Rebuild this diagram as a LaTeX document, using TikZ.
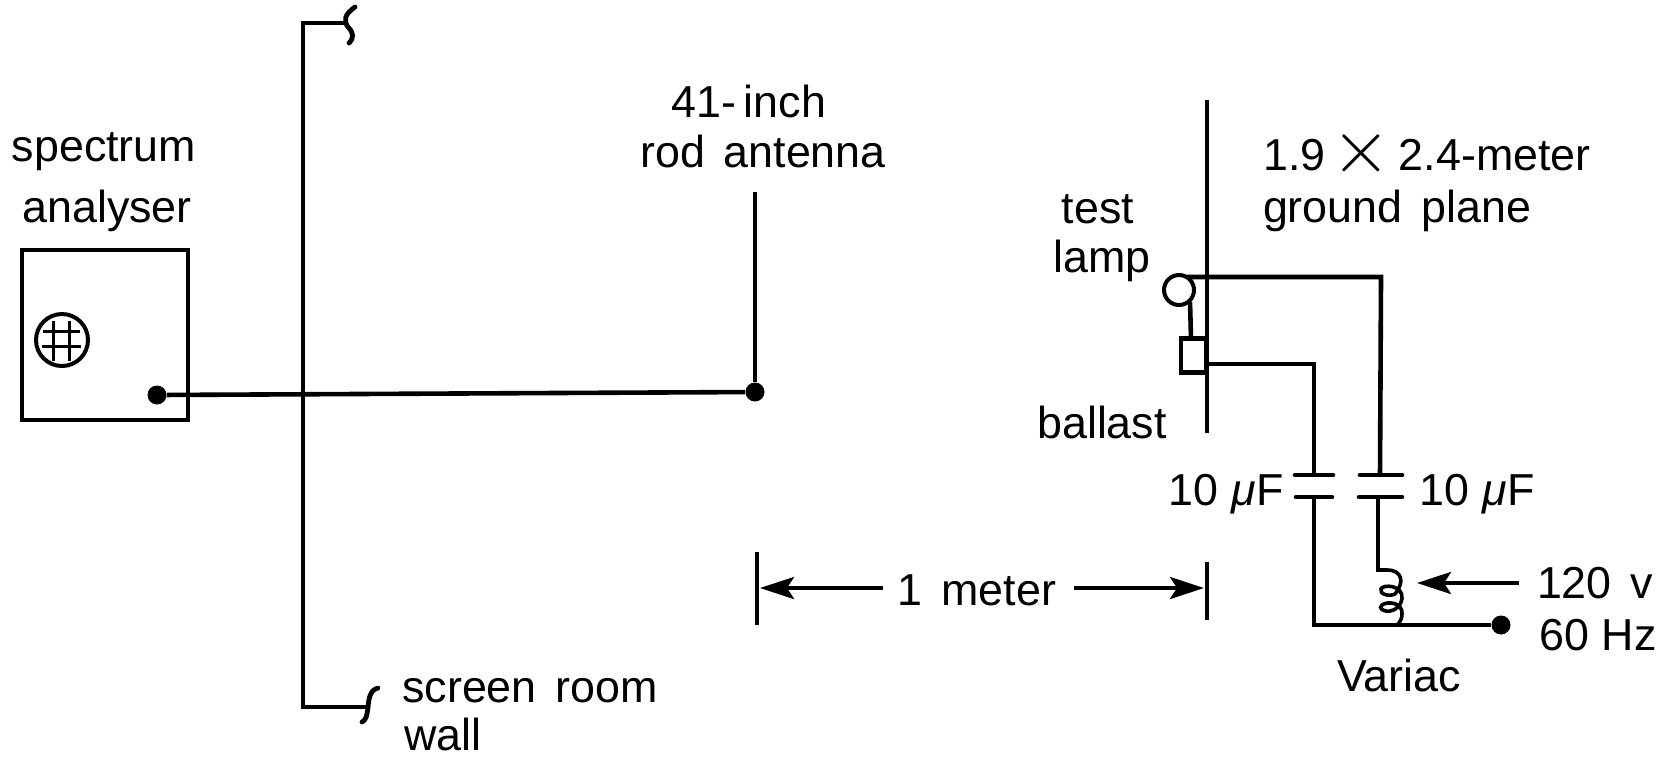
\documentclass[tikz,border=0pt]{standalone}
\usepackage{fontspec}
\setmainfont{Liberation Sans}
\usetikzlibrary{arrows.meta}
\newcommand{\umu}{\textit{μ}}
\tikzset{
  wire/.style={line width=2.3pt,line join=miter},
  thinw/.style={line width=1.5pt},
  lbl/.style={inner sep=0pt,anchor=base,font=\fontsize{22.4}{22.4}\selectfont},
  lblw/.style={lbl,execute at begin node={\spaceskip=0.42em}},
  dotn/.style={circle,fill=black,draw=none,inner sep=0pt,minimum size=9.5pt},
  tip/.style={-{Stealth[length=17pt,width=11pt,inset=3.5pt]},line width=2pt}
}
\begin{document}
\begin{tikzpicture}[x=0.5pt,y=-0.5pt]
\useasboundingbox (0,0) rectangle (1669,757);
\fill[white] (0,0) rectangle (1669,757);
% spectrum analyser
\node[wire,draw,inner sep=0pt,minimum width=83pt,minimum height=85pt] (sa) at (105,335) {};
\node[line width=2pt,draw,circle,inner sep=0pt,minimum size=26pt] (scr) at (62,340) {};
\coordinate (g1t) at (53,321); \coordinate (g1b) at (53,361);
\coordinate (g2t) at (69,321); \coordinate (g2b) at (69,361);
\coordinate (g3l) at (43,331); \coordinate (g3r) at (80,331);
\coordinate (g4l) at (42,346); \coordinate (g4r) at (81,346);
\draw[thinw] (g1t)--(g1b) (g2t)--(g2b) (g3l)--(g3r) (g4l)--(g4r);
\node[dotn] (sadot) at (157,395) {};
\node[dotn] (antdot) at (755,392) {};
\coordinate (anttop) at (755,192);
\draw[wire] (sadot)--(antdot);
\draw[wire] (anttop)--(antdot);
% wall
\coordinate (wt) at (348,23); \coordinate (wb) at (368,707);
\draw[wire] (wt)--(303,23)--(303,707)--(wb);
\draw[line width=2.4pt,line cap=round] (355,7) .. controls (345,14) and (343,20) .. (348,27) .. controls (354,33) and (354,38) .. (349,43);
\draw[line width=2.4pt,line cap=round] (378,688) .. controls (370,690) and (369,698) .. (368,707) .. controls (367,716) and (366,720) .. (362,722);
% ground plane
\coordinate (gpt) at (1207,100); \coordinate (gpb) at (1207,433);
\draw[wire] (gpt)--(gpb);
% lamp and ballast
\node[line width=2pt,draw,circle,inner sep=0pt,minimum size=15pt] (lamp) at (1179,290) {};
\node[wire,draw,inner sep=0pt,minimum width=12.5pt,minimum height=17pt] (bal) at (1193.5,355.5) {};
\coordinate (lampb) at (1190,302); \coordinate (balt) at (1191,338);
\draw[wire] (lampb)--(balt);
% capacitors
\coordinate (c1t) at (1314,475); \coordinate (c1b) at (1314,497);
\coordinate (c2t) at (1380,475); \coordinate (c2b) at (1378,497);
\coordinate (lampt) at (1187,277);
\draw[wire] (lampt)--(1381,277)--(c2t);
\draw[wire] (1207,364)--(1314,364)--(c1t);
\draw[wire,line cap=round] (1295,475)--(1333,475) (1296,497)--(1332,497);
\draw[wire,line cap=round] (1360,475)--(1402,475) (1359,497)--(1402,497);
% variac
\node[dotn] (mains) at (1501,625) {};
\draw[wire] (c1b)--(1314,625)--(mains);
\draw[wire] (c2b)--(1378,570)--(1388,570);
\draw[line width=1.8pt] (1387,570) .. controls (1402,570) and (1405,582) .. (1395,594) .. controls (1389,597) and (1379,594) .. (1381,589) .. controls (1383,584) and (1403,585) .. (1402,598) .. controls (1401,606) and (1396,610) .. (1390,611) .. controls (1383,612) and (1378,608) .. (1382,605) .. controls (1387,601) and (1403,602) .. (1402,614) .. controls (1402,619) and (1400,622) .. (1397,625);
\coordinate (volt) at (1519,583); \coordinate (volttip) at (1417,583);
\draw[tip] (volt)--(volttip);
% dimension
\coordinate (d1t) at (757,552); \coordinate (d1b) at (757,625);
\coordinate (d2t) at (1207,562); \coordinate (d2b) at (1207,620);
\draw[wire] (d1t)--(d1b) (d2t)--(d2b);
\coordinate (dl) at (883,588); \coordinate (dlt) at (760,588);
\coordinate (dr) at (1074,588); \coordinate (drt) at (1204,588);
\draw[tip] (dl)--(dlt);
\draw[tip] (dr)--(drt);
% labels
\node[lbl] (t1) at (104,161) {spectrum};
\node[lbl] (t2) at (107,222) {analyser};
\node[lbl] (t3) at (749,117) {41-\,inch};
\node[lblw] (t4) at (763,167) {rod antenna};
\node[lbl] (t5) at (1098,223) {test};
\node[lbl] (t6) at (1102,272) {lamp};
\node[lbl] (t7) at (1102,438) {ballast};
\node[lbl,anchor=base west] (t8a) at (1263,170) {1.9};
\node[lbl,anchor=center] (t8b) at (1361,153) {\scalebox{1.85}{$\times$}};
\node[lbl,anchor=base east] (t8c) at (1591,170) {2.4-meter};
\node[lblw] (t9) at (1397,222) {ground plane};
\node[lbl] (t10) at (1226,505) {10\hspace{0.3em}\umu F};
\node[lbl] (t11) at (1477,505) {10\hspace{0.3em}\umu F};
\node[lblw] (t12) at (977,605) {1 meter};
\node[lblw] (t13) at (1595,598) {120 v};
\node[lbl] (t14) at (1598,650) {60 Hz};
\node[lbl] (t15) at (1399,691) {Variac};
\node[lblw] (t16) at (530,702) {screen room};
\node[lbl,anchor=base west] (t17) at (404,750) {wall};
\end{tikzpicture}
\end{document}
